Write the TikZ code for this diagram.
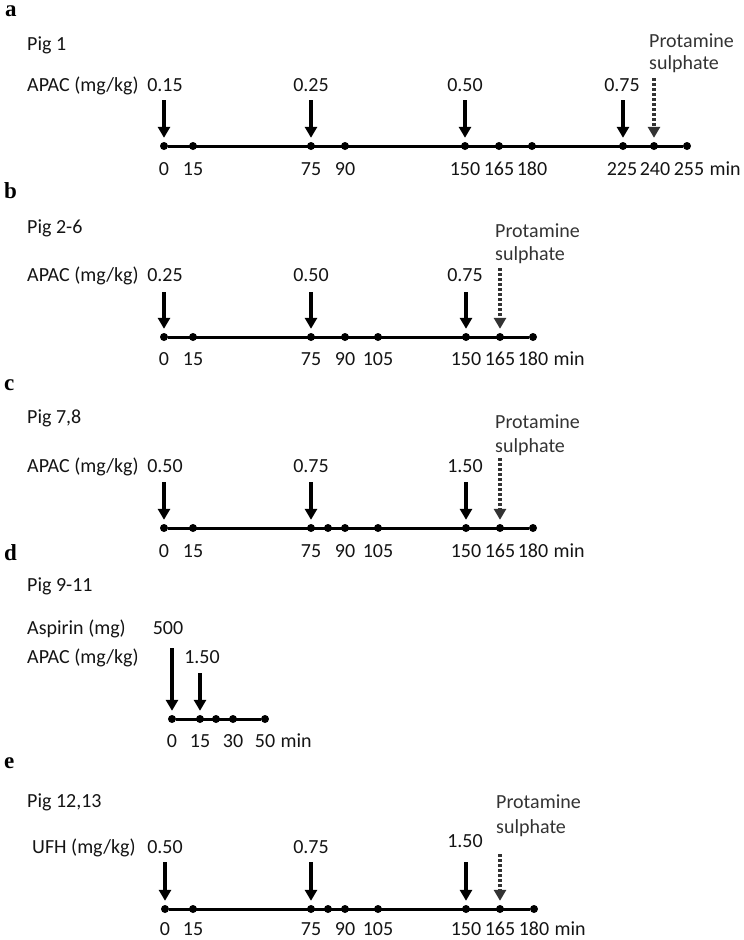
\documentclass[tikz,border=0pt]{standalone}
\usepackage{fontspec}
\setmainfont{Carlito}
\newfontfamily\tagfont{Liberation Serif}
\usepackage{tikz}
\usetikzlibrary{positioning}
\usetikzlibrary{arrows.meta}

\begin{document}
\begin{tikzpicture}[x=1pt,y=-1pt,
 dot/.style={circle,fill=black,inner sep=0pt,minimum size=8pt},
 txt/.style={font=\fontsize{20}{24}\selectfont,text=black!92,inner sep=0pt,anchor=base west},
 num/.style={font=\fontsize{20}{24}\selectfont,text=black!92,inner sep=0pt,anchor=base},
 tag/.style={font=\tagfont\bfseries\fontsize{23}{26}\selectfont,inner sep=0pt,anchor=base west},
 axis/.style={line width=3pt},
 dose/.style={line width=3.3pt,-{Triangle[width=12pt,length=11pt]},shorten >=4pt},
 prot/.style={dose,draw=black!80,dash pattern=on 3pt off 2pt}]
 \useasboundingbox (0,0) rectangle (744,940);

 % a
 \node[tag] (taga) at (5,16) {a};
 \node[txt] (piga) at (27,50) {Pig 1};
 \node[txt] (druga) at (27,91) {APAC (mg/kg)};
 \node[dot] (a0) at (164,146) {};
 \node[dot] (a15) at (193,146) {};
 \node[dot] (a75) at (311,146) {};
 \node[dot] (a90) at (345,146) {};
 \node[dot] (a150) at (465,146) {};
 \node[dot] (a165) at (499,146) {};
 \node[dot] (a180) at (532,146) {};
 \node[dot] (a225) at (623,146) {};
 \node[dot] (a240) at (654,146) {};
 \node[dot] (a255) at (687,146) {};
 \draw[axis] (a0) -- (a255);
 \node[num] (ta0) at (164,175) {0};
 \node[num] (ta15) at (193,175) {15};
 \node[num] (ta75) at (311,175) {75};
 \node[num] (ta90) at (345,175) {90};
 \node[num] (ta150) at (465,175) {150};
 \node[num] (ta165) at (499,175) {165};
 \node[num] (ta180) at (532,175) {180};
 \node[num] (ta225) at (622,175) {225};
 \node[num] (ta240) at (655,175) {240};
 \node[num] (ta255) at (689,175) {255};
 \node[txt,base right=5pt of ta255] (mina) {min};
 \node[num] (na0) at (165,91) {0.15};
 \node[num] (na75) at (311,91) {0.25};
 \node[num] (na150) at (465,91) {0.50};
 \node[num] (na225) at (622,91) {0.75};
 \coordinate (sa0) at (164,100);
 \coordinate (sa75) at (311,100);
 \coordinate (sa150) at (465,100);
 \coordinate (sa225) at (623,100);
 \draw[dose] (sa0) -- (a0);
 \draw[dose] (sa75) -- (a75);
 \draw[dose] (sa150) -- (a150);
 \draw[dose] (sa225) -- (a225);
 \node[txt,text=black!80] (pra) at (649,47) {Protamine};
 \node[txt,text=black!80] (sua) at (649,69) {sulphate};
 \coordinate (sa240) at (654,78);
 \draw[prot] (sa240) -- (a240);

 % b
 \node[tag] (tagb) at (4,198) {b};
 \node[txt] (pigb) at (27,233) {Pig 2-6};
 \node[txt] (drugb) at (27,281) {APAC (mg/kg)};
 \node[dot] (b0) at (164,337) {};
 \node[dot] (b15) at (193,337) {};
 \node[dot] (b75) at (311,337) {};
 \node[dot] (b90) at (345,337) {};
 \node[dot] (b105) at (378,337) {};
 \node[dot] (b150) at (466,337) {};
 \node[dot] (b165) at (500,337) {};
 \node[dot] (b180) at (533,337) {};
 \draw[axis] (b0) -- (b180);
 \node[num] (tb0) at (164,365) {0};
 \node[num] (tb15) at (193,365) {15};
 \node[num] (tb75) at (311,365) {75};
 \node[num] (tb90) at (345,365) {90};
 \node[num] (tb105) at (378,365) {105};
 \node[num] (tb150) at (466,365) {150};
 \node[num] (tb165) at (500,365) {165};
 \node[num] (tb180) at (533,365) {180};
 \node[txt,base right=5pt of tb180] (minb) {min};
 \node[num] (nb0) at (165,281) {0.25};
 \node[num] (nb75) at (311,281) {0.50};
 \node[num] (nb150) at (465,281) {0.75};
 \coordinate (sb0) at (164,292);
 \coordinate (sb75) at (311,292);
 \coordinate (sb150) at (466,292);
 \draw[dose] (sb0) -- (b0);
 \draw[dose] (sb75) -- (b75);
 \draw[dose] (sb150) -- (b150);
 \node[txt,text=black!80] (prb) at (495,237) {Protamine};
 \node[txt,text=black!80] (sub) at (495,260) {sulphate};
 \coordinate (sb165) at (500,268);
 \draw[prot] (sb165) -- (b165);

 % c
 \node[tag] (tagc) at (4,390) {c};
 \node[txt] (pigc) at (27,423) {Pig 7,8};
 \node[txt] (drugc) at (27,472) {APAC (mg/kg)};
 \node[dot] (c0) at (164,528) {};
 \node[dot] (c15) at (193,528) {};
 \node[dot] (c75) at (311,528) {};
 \node[dot] (c80) at (328,528) {};
 \node[dot] (c90) at (345,528) {};
 \node[dot] (c105) at (378,528) {};
 \node[dot] (c150) at (466,528) {};
 \node[dot] (c165) at (500,528) {};
 \node[dot] (c180) at (533,528) {};
 \draw[axis] (c0) -- (c180);
 \node[num] (tc0) at (164,557) {0};
 \node[num] (tc15) at (193,557) {15};
 \node[num] (tc75) at (311,557) {75};
 \node[num] (tc90) at (345,557) {90};
 \node[num] (tc105) at (378,557) {105};
 \node[num] (tc150) at (466,557) {150};
 \node[num] (tc165) at (500,557) {165};
 \node[num] (tc180) at (533,557) {180};
 \node[txt,base right=5pt of tc180] (minc) {min};
 \node[num] (nc0) at (165,472) {0.50};
 \node[num] (nc75) at (311,472) {0.75};
 \node[num] (nc150) at (465,472) {1.50};
 \coordinate (sc0) at (164,482);
 \coordinate (sc75) at (311,482);
 \coordinate (sc150) at (466,482);
 \draw[dose] (sc0) -- (c0);
 \draw[dose] (sc75) -- (c75);
 \draw[dose] (sc150) -- (c150);
 \node[txt,text=black!80] (prc) at (495,428) {Protamine};
 \node[txt,text=black!80] (suc) at (495,452) {sulphate};
 \coordinate (sc165) at (500,458);
 \draw[prot] (sc165) -- (c165);

 % d
 \node[tag] (tagd) at (4,560) {d};
 \node[txt] (pigd) at (27,591) {Pig 9-11};
 \node[txt] (aspd) at (27,634) {Aspirin (mg)};
 \node[txt] (drugd) at (27,663) {APAC (mg/kg)};
 \node[dot] (d0) at (172,719) {};
 \node[dot] (d15) at (200,719) {};
 \node[dot] (d20) at (216,719) {};
 \node[dot] (d30) at (233,719) {};
 \node[dot] (d50) at (265,719) {};
 \draw[axis] (d0) -- (d50);
 \node[num] (td0) at (172,747) {0};
 \node[num] (td15) at (200,747) {15};
 \node[num] (td30) at (233,747) {30};
 \node[num] (td50) at (265,747) {50};
 \node[txt,base right=5pt of td50] (mind) {min};
 \node[num] (nd0) at (168,634) {500};
 \node[num] (nd15) at (202,663) {1.50};
 \coordinate (sd0) at (172,648);
 \coordinate (sd15) at (200,673);
 \draw[dose] (sd0) -- (d0);
 \draw[dose] (sd15) -- (d15);

 % e
 \node[tag] (tage) at (4,768) {e};
 \node[txt] (pige) at (27,807) {Pig 12,13};
 \node[txt] (druge) at (32,853) {UFH (mg/kg)};
 \node[dot] (e0) at (165,909) {};
 \node[dot] (e15) at (193,909) {};
 \node[dot] (e75) at (311,909) {};
 \node[dot] (e80) at (328,909) {};
 \node[dot] (e90) at (345,909) {};
 \node[dot] (e105) at (378,909) {};
 \node[dot] (e150) at (466,909) {};
 \node[dot] (e165) at (500,909) {};
 \node[dot] (e180) at (534,909) {};
 \draw[axis] (e0) -- (e180);
 \node[num] (te0) at (165,935) {0};
 \node[num] (te15) at (193,935) {15};
 \node[num] (te75) at (311,935) {75};
 \node[num] (te90) at (345,935) {90};
 \node[num] (te105) at (378,935) {105};
 \node[num] (te150) at (466,935) {150};
 \node[num] (te165) at (500,935) {165};
 \node[num] (te180) at (534,935) {180};
 \node[txt,base right=5pt of te180] (mine) {min};
 \node[num] (ne0) at (165,853) {0.50};
 \node[num] (ne75) at (311,853) {0.75};
 \node[num] (ne150) at (465,847) {1.50};
 \coordinate (se0) at (165,862);
 \coordinate (se75) at (311,862);
 \coordinate (se150) at (466,862);
 \draw[dose] (se0) -- (e0);
 \draw[dose] (se75) -- (e75);
 \draw[dose] (se150) -- (e150);
 \node[txt,text=black!80] (pre) at (496,808) {Protamine};
 \node[txt,text=black!80] (sue) at (496,833) {sulphate};
 \coordinate (se165) at (500,854);
 \draw[prot] (se165) -- (e165);
\end{tikzpicture}
\end{document}
